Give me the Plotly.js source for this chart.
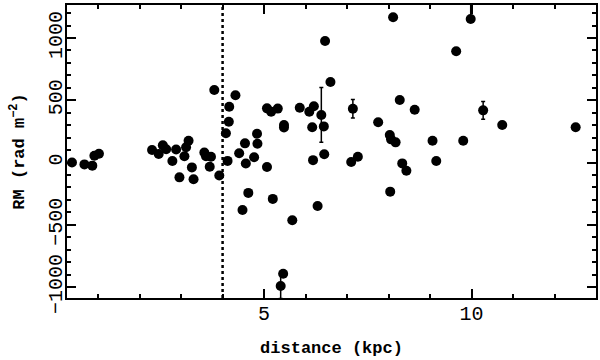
<!DOCTYPE html>
<html>
<head>
<meta charset="utf-8">
<script src="https://cdn.plot.ly/plotly-3.0.1.min.js"></script>
<style>
  body { margin: 0; background: #fff; }
  #graph { width: 600px; height: 360px; }
</style>
</head>
<body>
<div id="graph"></div>
<script>
// distance (kpc) and rotation measure (rad m^-2)
const distance = [
    0.37, 0.67, 0.86, 0.91, 1.02, 2.30, 2.46, 2.56, 2.64, 2.79,
    2.88, 2.96, 3.08, 3.12, 3.18, 3.26, 3.30, 3.56, 3.60, 3.72,
    3.69, 3.80, 3.92, 4.08, 4.12, 4.15, 4.16, 4.31, 4.40, 4.48,
    4.54, 4.56, 4.62, 4.76, 4.83, 4.84, 5.07, 5.07, 5.17, 5.21,
    5.33, 5.40, 5.46, 5.48, 5.48, 5.68, 5.86, 6.09, 6.16, 6.18,
    6.20, 6.29, 6.38, 6.44, 6.45, 6.47, 6.60, 7.10, 7.14, 7.26,
    7.75, 8.03, 8.04, 8.06, 8.11, 8.17, 8.27, 8.33, 8.43, 8.63,
    9.06, 9.15, 9.63, 9.80, 9.98, 10.28, 10.74, 12.51
];
const rm = [
    0, -15, -25, 55, 71, 100, 68, 138, 106, 12,
    104, -119, 50, 122, 175, -39, -135, 80, 50, 46,
    -34, 582, -104, 235, 13, 328, 448, 540, 75, -381,
    154, -8, -244, 43, 231, 151, -36, 435, 408, -292,
    433, -992, -893, 301, 281, -464, 440, 408, 283, 19,
    452, -349, 382, 290, 66, 976, 647, 4, 432, 47,
    323, 221, -234, 186, 1166, 162, 502, -7, -66, 424,
    175, 12, 893, 175, 1153, 419, 301, 283
];
// error bars (only a handful of sources have them)
const errUp = distance.map(() => 0);
const errDown = distance.map(() => 0);
errUp[41] = 100;  errDown[41] = 100;   // 5.40 kpc
errUp[52] = 220;  errDown[52] = 220;   // 6.38 kpc
errUp[58] = 75;   errDown[58] = 75;    // 7.14 kpc
errUp[74] = 150;  errDown[74] = 0;     // 9.98 kpc
errUp[75] = 71;   errDown[75] = 71;    // 10.28 kpc

const dividerX = 4;

const fontFamily = 'Liberation Mono, DejaVu Sans Mono, monospace';

const trace = {
    type: 'scatter',
    mode: 'markers',
    x: distance,
    y: rm,
    marker: { size: 10, color: '#000' },
    error_y: {
        type: 'data',
        symmetric: false,
        array: errUp,
        arrayminus: errDown,
        color: '#000',
        thickness: 1.5,
        width: 2
    },
    cliponaxis: true,
    showlegend: false
};

const axisCommon = {
    showgrid: false,
    zeroline: false,
    showline: true,
    linecolor: '#000',
    linewidth: 2,
    mirror: 'ticks',
    ticks: 'inside',
    ticklen: 9,
    tickwidth: 2,
    tickcolor: '#000',
    tickfont: { family: fontFamily, size: 20, color: '#000' }
};

const layout = {
    width: 600,
    height: 360,
    margin: { l: 67, r: 4, t: 5, b: 62 },
    paper_bgcolor: '#fff',
    plot_bgcolor: '#fff',
    xaxis: Object.assign({}, axisCommon, {
        range: [0.25, 13.0],
        dtick: 5,
        tick0: 0,
        ticklabelstandoff: -4,
        minor: { dtick: 1, ticklen: 4, tickwidth: 2, tickcolor: '#000', ticks: 'inside' },
        title: { text: 'distance (kpc)', font: { family: fontFamily, size: 17, color: '#000', weight: 'bold' }, standoff: 16 }
    }),
    yaxis: Object.assign({}, axisCommon, {
        range: [-1088, 1265],
        dtick: 500,
        tick0: 0,
        tickangle: -90,
        ticklabelstandoff: -5,
        minor: { dtick: 100, ticklen: 4, tickwidth: 2, tickcolor: '#000', ticks: 'inside' },
        title: { text: 'RM (rad m<sup>\u22122</sup>)', font: { family: fontFamily, size: 17, color: '#000', weight: 'bold' }, standoff: 16 }
    }),
    shapes: [{
        type: 'line',
        xref: 'x', yref: 'paper',
        x0: dividerX, x1: dividerX, y0: 0, y1: 1,
        line: { color: '#000', width: 2.5, dash: 'dot' }
    }]
};

Plotly.newPlot('graph', [trace], layout, { staticPlot: true });
</script>
</body>
</html>
